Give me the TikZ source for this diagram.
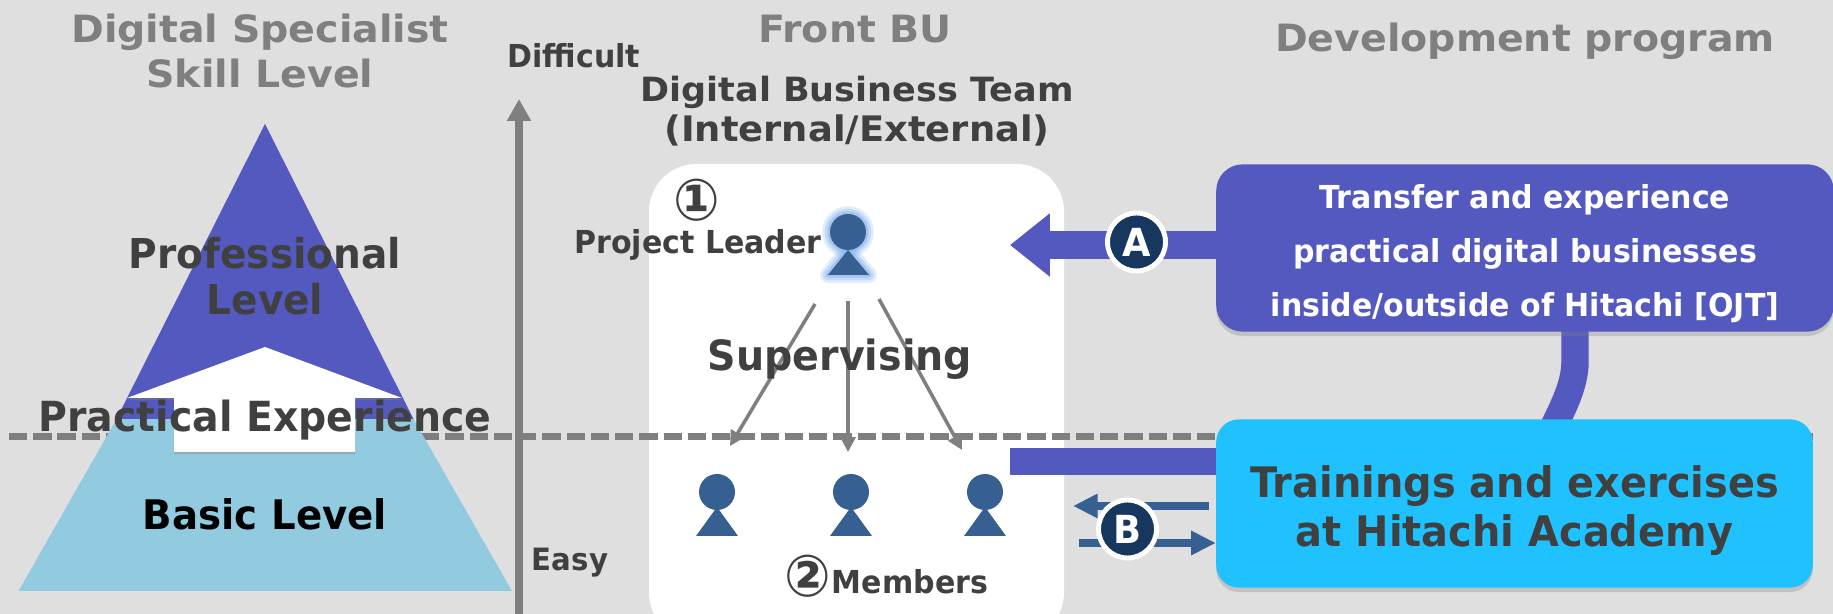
\documentclass[tikz,border=0pt]{standalone}
\usepackage{fontspec}
\setmainfont{DejaVu Sans}[FakeStretch=0.95]
\newfontfamily\widefont{DejaVu Sans}[FakeStretch=1.05]
\usetikzlibrary{arrows.meta,shadows,calc}

\definecolor{pagegray}{HTML}{DFDFDF}
\definecolor{linegray}{HTML}{7F7F7F}
\definecolor{inkgray}{HTML}{404040}
\definecolor{hipurple}{HTML}{5359BE}
\definecolor{hicyan}{HTML}{1FC2FF}
\definecolor{pyrblue}{HTML}{92CBDF}
\definecolor{personblue}{HTML}{366092}
\definecolor{badgeblue}{HTML}{17375E}
\definecolor{glowblue}{HTML}{8DB8EC}

\pgfdeclarelayer{backdrop}
\pgfdeclarelayer{under}
\pgfsetlayers{backdrop,under,main}

\tikzset{
	every node/.style={inner sep=0pt,font=\bfseries},
	headtext/.style={text=linegray,align=center},
	bodytext/.style={text=inkgray,align=center},
	hibox/.style={rounded corners=15pt,inner sep=0pt,align=center,
		drop shadow={shadow xshift=0pt,shadow yshift=-2.5pt,opacity=0.3}},
	badge/.style={circle,fill=badgeblue,draw=white,line width=2.8pt,minimum size=33pt,text=white,font=\bfseries\fontsize{22}{22}\selectfont},
	superv/.style={linegray,line width=2pt,-{Triangle[length=8.5pt,width=8.5pt]}},
	thickbar/.style={hipurple,line width=15.6pt},
	thinarrow/.style={personblue,line width=4.5pt,-{Triangle[length=14pt,width=13pt]}},
}

\begin{document}
\begin{tikzpicture}[x=0.02cm,y=-0.02cm]
	\useasboundingbox (0,0) rectangle (1833,614);
	
	\begin{pgfonlayer}{backdrop}
		\fill[pagegray] (0,0) rectangle (1833,614);
	\end{pgfonlayer}
	
	\fill[white,rounded corners=27pt] (649,164) rectangle (1064,640);
	
	% dashed level line and axis
	\coordinate (dashleft) at (9,436.5);
	\coordinate (dashright) at (1813,436.5);
	\draw[linegray,line width=3.7pt,dash pattern=on 10.4pt off 3.4pt] (dashleft) -- (dashright);
	\coordinate (axisfoot) at (519,620);
	\coordinate (axistop) at (519,99);
	\draw[linegray,line width=4.2pt,-{Triangle[length=12.5pt,width=13pt]}] (axisfoot) -- (axistop);
	
	% pyramid
	\fill[pyrblue] (18.6,591) -- (512,591) -- (413.5,419) -- (116.5,419) -- cycle;
	\fill[hipurple] (265,124) -- (413.5,419) -- (116.5,419) -- cycle;
	\fill[white,drop shadow={shadow xshift=0pt,shadow yshift=-1.2pt,opacity=0.4}]
		(265,347) -- (402,398) -- (355,398) -- (355,452) -- (174,452) -- (174,398) -- (127,398) -- cycle;
	
	% headings
	\node[headtext,font=\widefont\bfseries\fontsize{21.4}{25.5}\selectfont] (skillhead) at (260,51) {Digital Specialist\\Skill Level};
	\node[headtext,font=\widefont\bfseries\fontsize{21.4}{25}\selectfont] (fronthead) at (855,29) {Front BU};
	\node[headtext,font=\widefont\bfseries\fontsize{21.4}{25}\selectfont] (devhead) at (1525,41) {Development program};
	\node[bodytext,font=\widefont\bfseries\fontsize{19}{22.5}\selectfont] (teamhead) at (857,111) {Digital Business Team\\{\fontsize{20}{22.5}\selectfont (Internal/External)}};
	\node[bodytext,font=\bfseries\fontsize{18}{18}\selectfont] (difficult) at (574,56) {Difficult};
	\node[bodytext,font=\bfseries\fontsize{17.5}{18}\selectfont] (easy) at (570,563) {Easy};
	
	% pyramid labels
	\node[bodytext,font=\bfseries\fontsize{23.4}{26.5}\selectfont] (prolevel) at (265,276) {Professional\\Level};
	\node[bodytext,font=\bfseries\fontsize{23.6}{26}\selectfont] (practical) at (265,420) {Practical Experience};
	\node[text=black,font=\bfseries\fontsize{23.2}{26}\selectfont] (basiclevel) at (265,514) {Basic Level};
	
	% leader
	\foreach \wid/\opa in {9pt/0.25,6pt/0.35,3pt/0.6}
	{
		\draw[glowblue,line width=\wid,opacity=\opa,line join=round] (848,232) circle (18);
		\draw[glowblue,fill=glowblue,line width=\wid,opacity=\opa,line join=round] (848,250) -- (869,275) -- (828,275) -- cycle;
	}
	\fill[personblue] (848,232) circle (18);
	\fill[personblue] (848,250) -- (869,275) -- (828,275) -- cycle;
	
	% members
	\foreach \xpos in {717,851,985}
	{
		\fill[personblue] (\xpos,492) circle (18);
		\fill[personblue] (\xpos,507) -- (\xpos+21,536) -- (\xpos-21,536) -- cycle;
	}
	
	\node[bodytext,font=\bfseries\fontsize{18}{18}\selectfont] (leaderlabel) at (698,245) {Project Leader};
	\node[bodytext,font=\bfseries\fontsize{18}{18}\selectfont] (memberlabel) at (910,582) {Members};
	\node[bodytext,font=\bfseries\fontsize{33}{33}\selectfont] (numone) at (697,200) {①};
	\node[bodytext,font=\bfseries\fontsize{33}{33}\selectfont] (numtwo) at (808,576) {②};
	
	% supervising arrows
	\coordinate (leadleft) at (815,304);
	\coordinate (leadmid) at (848,301);
	\coordinate (leadright) at (879,299);
	\coordinate (memleft) at (730,446);
	\coordinate (memmid) at (848,452);
	\coordinate (memright) at (962,450);
	\draw[superv] (leadleft) -- (memleft);
	\draw[superv] (leadmid) -- (memmid);
	\draw[superv] (leadright) -- (memright);
	\node[bodytext,font=\bfseries\fontsize{23.7}{30}\selectfont] (supervising) at (840,359) {Supervising};
	
	% program boxes
	\node[hibox,fill=hipurple,minimum width=351.5pt,minimum height=95.2pt,text=white,font=\bfseries\fontsize{18}{30.8}\selectfont] (ojtbox) at (1525,248)
		{\rule{0pt}{20pt}Transfer and experience\\practical digital businesses\\inside/outside of Hitachi [OJT]};
	\node[hibox,fill=hicyan,rounded corners=13pt,minimum width=339.6pt,minimum height=95.8pt,text=inkgray,font=\bfseries\fontsize{23.9}{27.8}\selectfont] (academybox) at (1514.5,503.5)
		{\rule{0pt}{26pt}Trainings and exercises\\at Hitachi Academy};
	
	\begin{pgfonlayer}{under}
		\coordinate (bendtop) at ($(ojtbox.south)+(50,30)$);
		\coordinate (bendend) at ($(academybox.north)+(37,12)$);
		\draw[thickbar] ($(ojtbox.south)+(50,-2)$) -- (bendtop) .. controls +(0,22) and +(12,-24) .. (bendend);
	\end{pgfonlayer}
	
	\coordinate (tipa) at (1010,245);
	\draw[thickbar,line width=15.9pt,-{Triangle[length=22.7pt,width=34.6pt]}] (tipa -| ojtbox.west) -- (tipa);
	\node[badge] (badgea) at (1136.5,242) {A};
	
	\coordinate (barend) at (1010,461.5);
	\draw[thickbar] (barend -| academybox.west) -- (barend);
	
	\coordinate (tipup) at (1073,506);
	\coordinate (tailup) at (1209,506);
	\coordinate (taildown) at (1079,543);
	\draw[thinarrow] (tailup) -- (tipup);
	\draw[thinarrow] (taildown) -- (taildown -| academybox.west);
	\node[badge] (badgeb) at (1127.5,529) {B};
\end{tikzpicture}
\end{document}
